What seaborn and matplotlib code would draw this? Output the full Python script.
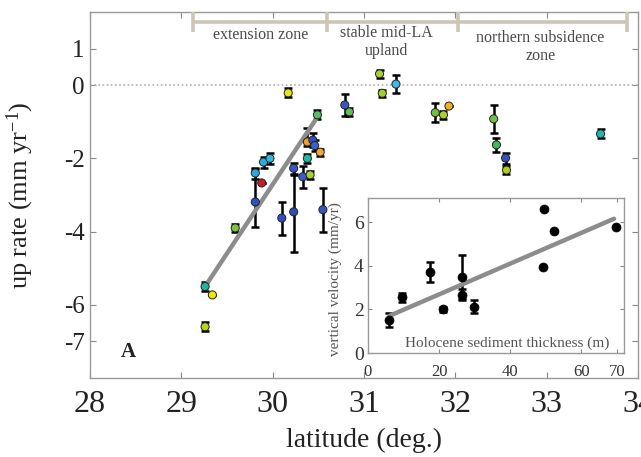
import matplotlib
matplotlib.use("Agg")
import matplotlib.pyplot as plt
import seaborn as sns
import pandas as pd
import numpy as np

# ---------------- data ----------------
lat = [29.26, 29.26, 29.34, 29.59, 29.81, 29.81, 29.88, 29.90, 29.97, 30.17,
       30.10, 30.23, 30.23, 30.33, 30.41, 30.55, 30.38, 30.44, 30.46, 30.52,
       30.38, 30.49, 30.79, 30.84, 31.17, 31.20, 31.35, 31.78, 31.87, 31.93,
       32.42, 32.45, 32.55, 32.56, 33.59]
rate = [-6.60, -5.50, -5.73, -3.90, -2.40, -3.19, -2.67, -2.10, -2.00, -0.21,
        -3.63, -2.27, -3.46, -2.50, -2.45, -3.40, -1.55, -1.50, -1.65, -1.83,
        -2.00, -0.81, -0.54, -0.73, 0.31, -0.22, 0.03, -0.75, -0.81, -0.57,
        -0.92, -1.63, -1.99, -2.32, -1.33]
err_lo = [0.12, 0.12, 0.0, 0.10, 0.15, 0.68, 0.0, 0.15, 0.15, 0.12,
          0.45, 0.15, 1.10, 0.30, 0.10, 0.60, 0.10, 0.20, 0.15, 0.10,
          0.12, 0.12, 0.30, 0.10, 0.10, 0.10, 0.25, 0.25, 0.10, 0.0,
          0.38, 0.20, 0.15, 0.10, 0.12]
err_hi = [0.12, 0.12, 0.0, 0.10, 0.15, 0.90, 0.0, 0.15, 0.15, 0.12,
          0.45, 0.15, 1.00, 0.30, 0.10, 0.60, 0.38, 0.20, 0.15, 0.10,
          0.12, 0.12, 0.30, 0.10, 0.10, 0.10, 0.25, 0.25, 0.10, 0.0,
          0.38, 0.20, 0.15, 0.10, 0.12]
colors = ['#b5d41c', '#1fb5a5', '#f2e600', '#7cc43c', '#2aa8e0', '#2f4fbf', '#c0222a',
          '#25b0e0', '#30b8e8', '#e8e020', '#3050c0', '#3556c4', '#2f4db8', '#3a5cc8',
          '#a8d030', '#3555c0', '#f0a020', '#3050c0', '#3a60d0', '#f0a830', '#20b8a0',
          '#50c060', '#3058c8', '#60c050', '#a8d030', '#a0d030', '#40b8e8', '#70c040',
          '#a8d030', '#f0b020', '#70c040', '#40b860', '#3050c0', '#b0d020', '#20b8b0']

fit_lat = [29.26, 30.50]
fit_rate = [-5.50, -0.83]

zone_edges = [29.13, 30.60, 32.03, 33.88]
zone_names = ["extension zone", "stable mid-LA\nupland", "northern subsidence\nzone"]
zone_label_x = [29.87, 31.25, 32.93]
zone_label_y = [1.37, 1.18, 1.05]

x_ticks = [28, 29, 30, 31, 32, 33, 34]
y_ticks = [-7, -6, -4, -2, 0, 1]

# inset data
thick = [6.0, 9.7, 17.4, 21.0, 26.4, 26.4, 29.7, 49.5, 49.3, 52.3, 69.7]
vvel = [1.51, 2.55, 3.72, 2.00, 3.47, 2.66, 2.12, 6.58, 3.92, 5.60, 5.76]
vvel_err = [0.30, 0.20, 0.45, 0.10, 1.00, 0.25, 0.30, 0.0, 0.0, 0.0, 0.0]
fit_thick = [6.0, 69.2]
fit_vvel = [1.70, 6.15]
inset_xticks = [0, 20, 40, 60, 70]
inset_yticks = [0, 2, 4, 6]

# ---------------- style ----------------
sns.set_style("ticks")
plt.rcParams['font.family'] = ['Liberation Serif', 'DejaVu Serif']
plt.rcParams['mathtext.fontset'] = 'custom'
plt.rcParams['mathtext.rm'] = 'Liberation Serif'
plt.rcParams['mathtext.it'] = 'Liberation Serif:italic'

fig = plt.figure(figsize=(6.41, 4.57), dpi=100)
ax = fig.add_axes([90/641, 79/457, 548/641, 366/457])

main_df = pd.DataFrame({'lat': lat, 'rate': rate, 'pid': [str(i) for i in range(len(lat))]})
pal = {str(i): c for i, c in enumerate(colors)}

ax.axhline(0, color='#b0b0b0', ls=(0, (1, 1.5)), lw=1.2, zorder=1)

ax.errorbar(lat, rate, yerr=[err_lo, err_hi], fmt='none', ecolor='black',
            elinewidth=1.8, capsize=3.2, capthick=1.8, zorder=2)
sns.lineplot(x=fit_lat, y=fit_rate, ax=ax, color='#8c8c8c', lw=3.2, zorder=3)
sns.scatterplot(data=main_df, x='lat', y='rate', hue='pid', palette=pal, ax=ax,
                legend=False, s=34, edgecolor='#222222', linewidth=0.7, zorder=4)

ax.set_xlim(28, 34)
ax.set_ylim(-8, 2)
ax.set_xticks(x_ticks)
ax.set_yticks(y_ticks)
ax.set_xticklabels([str(t) for t in x_ticks])
ax.set_yticklabels([str(t) for t in y_ticks])
ax.tick_params(direction='in', top=True, right=True, length=4, width=0.8, color='#888888')
ax.tick_params(axis='x', labelsize=23, pad=9, labelcolor='#222222')
ax.tick_params(axis='y', labelsize=18, pad=4, labelcolor='#222222')
for sp in ax.spines.values():
    sp.set_color('#999999')
    sp.set_linewidth(1.0)
    sp.set_visible(True)

ax.set_xlabel('latitude (deg.)', fontsize=20, color='#222222')
ax.xaxis.set_label_coords(0.5, -0.135)
ax.set_ylabel(r'up rate (mm yr$^{-1}$)', fontsize=19, color='#222222')
ax.yaxis.set_label_coords(-0.098, 0.5)

# zone brackets
bc = '#cdc6b8'
ax.plot([zone_edges[0], zone_edges[-1]], [1.73, 1.73], color=bc, lw=2.6, clip_on=False, zorder=5,
        solid_capstyle='butt')
for e in zone_edges:
    ax.plot([e, e], [2.0, 1.45], color=bc, lw=2.6, clip_on=False, zorder=5, solid_capstyle='butt')
for name, zx, zy in zip(zone_names, zone_label_x, zone_label_y):
    ax.text(zx, zy, name, ha='center', va='center', fontsize=11.5, color='#4a4a4a',
            linespacing=1.15)

ax.text(28.42, -7.29, 'A', fontsize=15, fontweight='bold', ha='center', va='center',
        color='#222222')

# ---------------- inset ----------------
ax2 = fig.add_axes([368/641, 104/457, 256/641, 155/457])
ax2.set_facecolor('white')
ax2.errorbar(thick, vvel, yerr=vvel_err, fmt='none', ecolor='black', elinewidth=1.8,
             capsize=3, capthick=1.8, zorder=2)
sns.lineplot(x=fit_thick, y=fit_vvel, ax=ax2, color='#8c8c8c', lw=3.2, zorder=3)
sns.scatterplot(x=thick, y=vvel, ax=ax2, color='black', s=42, edgecolor='black',
                linewidth=0.5, zorder=4, legend=False)
ax2.set_xlim(0, 72)
ax2.set_ylim(0, 7.1)
ax2.set_xticks(inset_xticks)
ax2.set_yticks(inset_yticks)
ax2.set_xticklabels([str(t) for t in inset_xticks])
ax2.set_yticklabels([str(t) for t in inset_yticks])
ax2.tick_params(direction='in', top=True, right=True, length=3, width=0.8, color='#888888')
ax2.tick_params(axis='x', labelsize=12, pad=8, labelcolor='#333333')
ax2.tick_params(axis='y', labelsize=14, pad=3, labelcolor='#333333')
for sp in ax2.spines.values():
    sp.set_color('#999999')
    sp.set_linewidth(1.0)
    sp.set_visible(True)
ax2.set_xlabel('')
ax2.set_ylabel('vertical velocity (mm/yr)', fontsize=11, color='#555555')
ax2.yaxis.set_label_coords(-0.10, 0.48)
ax2.text(0.545, 0.06, 'Holocene sediment thickness (m)', transform=ax2.transAxes,
         ha='center', va='center', fontsize=11, color='#555555')

fig.savefig('out.png', dpi=100)
